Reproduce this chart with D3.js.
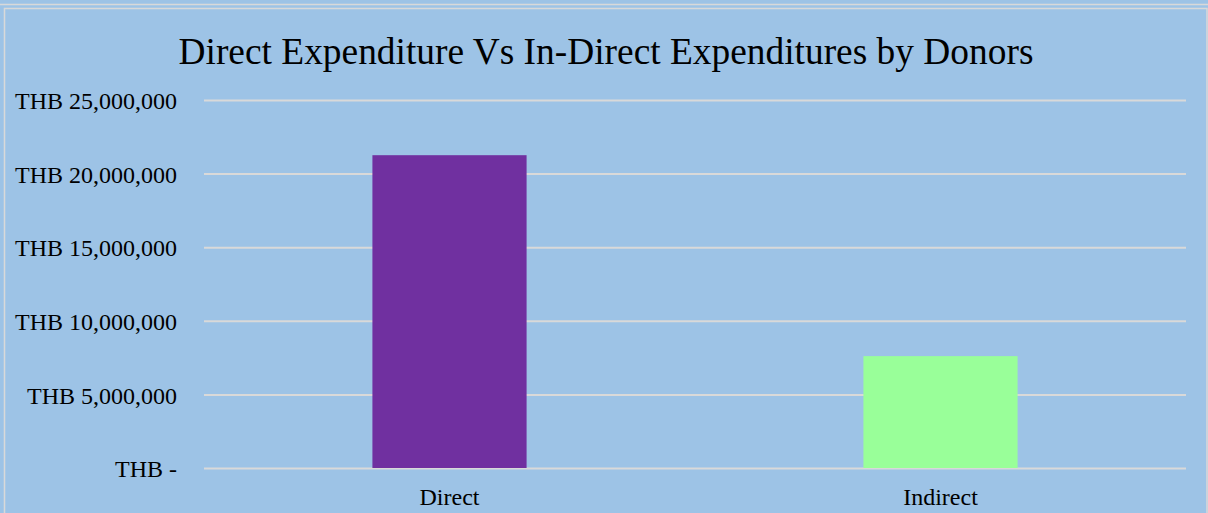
<!DOCTYPE html>
<html>
<head>
<meta charset="utf-8">
<script src="https://cdn.jsdelivr.net/npm/d3@7"></script>
<style>
  html, body { margin: 0; padding: 0; background: #9dc3e6; }
  svg { display: block; font-family: "Liberation Serif", "Times New Roman", serif; }
</style>
</head>
<body>
<svg id="chart"></svg>
<script>
const categories = ['Direct', 'Indirect'];
const values = [21250000, 7600000];
const barColors = ['#7030a0', '#99ff99'];
const tickValues = [0, 5000000, 10000000, 15000000, 20000000, 25000000];
const tickLabels = ['THB -', 'THB 5,000,000', 'THB 10,000,000', 'THB 15,000,000', 'THB 20,000,000', 'THB 25,000,000'];
const title = 'Direct Expenditure Vs In-Direct Expenditures by Donors';

const W = 1208, H = 513;
const margin = { top: 100, right: 22, bottom: 45, left: 204 };
const width = W - margin.left - margin.right;
const height = H - margin.top - margin.bottom;

const svg = d3.select('#chart')
  .attr('width', W)
  .attr('height', H);

// background + frame
svg.append('rect')
  .attr('width', W).attr('height', H)
  .attr('fill', '#9dc3e6');
svg.append('line')
  .attr('x1', 0).attr('x2', W).attr('y1', 4.5).attr('y2', 4.5)
  .attr('stroke', '#d9d9d9').attr('stroke-width', 1.5);
svg.append('path')
  .attr('d', `M4.5,${H} V8.5 H1207 V${H}`)
  .attr('fill', 'none')
  .attr('stroke', '#d9d9d9').attr('stroke-width', 1.5);

const g = svg.append('g')
  .attr('transform', `translate(${margin.left},${margin.top})`);

const x = d3.scaleBand()
  .domain(categories)
  .range([0, width])
  .paddingInner(0.686)
  .paddingOuter(0.343);

const y = d3.scaleLinear()
  .domain([0, 25000000])
  .range([height, 0]);

// grid
g.append('g')
  .attr('class', 'grid')
  .call(d3.axisLeft(y)
    .tickValues(tickValues)
    .tickSize(-width)
    .tickFormat(() => ''))
  .call(s => s.select('.domain').remove())
  .call(s => s.selectAll('line')
    .attr('stroke', '#d9d9d9')
    .attr('stroke-width', 2));

// bars
g.selectAll('.bar')
  .data(values)
  .enter()
  .append('rect')
  .attr('class', 'bar')
  .attr('x', (d, i) => x(categories[i]))
  .attr('width', x.bandwidth())
  .attr('y', d => y(d))
  .attr('height', d => height - y(d))
  .attr('fill', (d, i) => barColors[i]);

// Y axis labels
g.append('g')
  .attr('transform', 'translate(-24,0)')
  .call(d3.axisLeft(y)
    .tickValues(tickValues)
    .tickSize(0)
    .tickFormat((d, i) => tickLabels[i]))
  .attr('font-size', 24)
  .attr('font-family', '"Liberation Serif", serif')
  .call(s => s.select('.domain').remove())
  .call(s => s.selectAll('text')
    .attr('fill', '#000')
    .attr('dy', '0.36em'));

// X axis labels
g.append('g')
  .attr('transform', `translate(0,${height})`)
  .call(d3.axisBottom(x).tickSize(0))
  .attr('font-size', 24)
  .attr('font-family', '"Liberation Serif", serif')
  .call(s => s.select('.domain').remove())
  .call(s => s.selectAll('text')
    .attr('fill', '#000')
    .attr('dy', '1.42em'));

// title
svg.append('text')
  .attr('x', 606)
  .attr('y', 63.5)
  .attr('text-anchor', 'middle')
  .attr('font-size', 37.4)
  .attr('fill', '#000')
  .text(title);
</script>
</body>
</html>
